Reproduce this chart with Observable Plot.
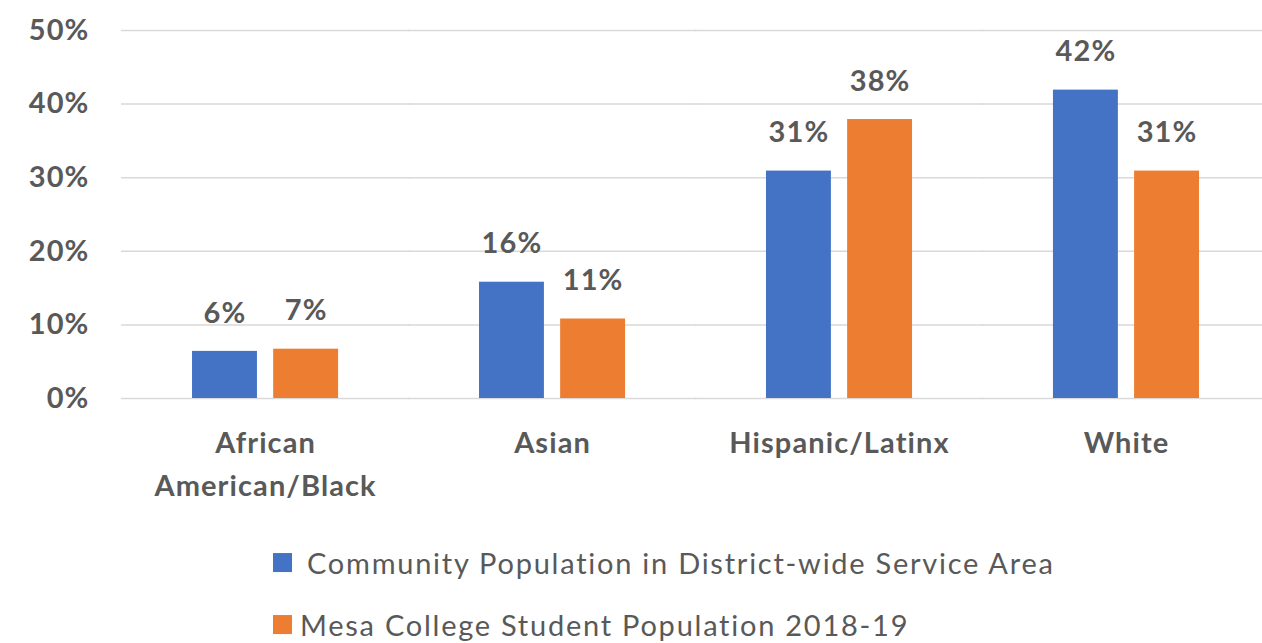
<!DOCTYPE html>
<html><head><meta charset="utf-8">
<script src="https://cdn.jsdelivr.net/npm/d3@7"></script>
<script src="https://cdn.jsdelivr.net/npm/@observablehq/plot@0.6"></script>
<style>
body{margin:0;background:#fff;font-family:Lato,sans-serif;}
#wrap{position:relative;width:1262px;height:643px;overflow:hidden;background:#fff;}
#chart{position:absolute;left:0;top:0;}
.leg{position:absolute;left:273px;display:flex;align-items:center;color:#595959;font-size:29px;letter-spacing:1.75px;white-space:nowrap;transform:translateY(-50%);line-height:1.1;}
.sw{display:inline-block;width:19px;height:19px;flex:none;}
#chart svg text{letter-spacing:1.1px;}
</style></head><body><div id="wrap"><div id="chart"></div></div>
<script>
const categories = ["African American/Black", "Asian", "Hispanic/Latinx", "White"];
const categoryLabels = ["African\nAmerican/Black", "Asian", "Hispanic/Latinx", "White"];
const series = ["Community Population in District-wide Service Area", "Mesa College Student Population 2018-19"];
const community = [0.064, 0.158, 0.309, 0.419];
const mesa = [0.067, 0.108, 0.379, 0.309];
const colors = ["#4472C4", "#ED7D31"];
const yTicks = [0, 0.1, 0.2, 0.3, 0.4, 0.5];

const data = categories.flatMap((c, i) => [
  {category: c, series: series[0], value: community[i]},
  {category: c, series: series[1], value: mesa[i]}
]);
const pct = d3.format(".0%");

const W = 1262, ML = 121, MR = 0;
const pIn = 0.491, pOut = 0.2335, align = 0.53;
const step = (W - ML - MR) / (categories.length - pIn + 2 * pOut);
const firstCellLeft = ML + align * 2 * pOut * step;
const gapHalf = step * pIn / 2 + 1;

const chart = Plot.plot({
  width: W, height: 520,
  marginLeft: ML, marginRight: MR, marginTop: 30, marginBottom: 122,
  style: {fontFamily: "Lato, sans-serif", fontSize: "29px", fontWeight: "bold", color: "#595959", background: "white"},
  fx: {domain: categories, paddingInner: pIn, paddingOuter: pOut, align, round: false, label: null, axis: null},
  x: {domain: series, paddingInner: 0.2, paddingOuter: 0, round: false, axis: null},
  y: {domain: [0, 0.5], axis: null},
  color: {domain: series, range: colors},
  marks: [
    Plot.ruleY(yTicks, {y: d => d, stroke: "#d9d9d9", strokeWidth: 1.5, insetLeft: -(firstCellLeft - ML), insetRight: -gapHalf}),
    Plot.axisY({anchor: "left", ticks: yTicks, tickFormat: pct, tickSize: 0, tickPadding: firstCellLeft - 89, fontSize: 29, fontWeight: "bold", fill: "#595959", label: null}),
    Plot.barY(data, {fx: "category", x: "series", y: "value", fill: "series"}),
    Plot.text(data, {fx: "category", x: "series", y: "value", text: d => pct(d.value), dy: -38, fontSize: 29, fontWeight: "bold", fill: "#595959"}),
    Plot.axisFx({anchor: "bottom", tickSize: 0, tickPadding: 24, fontSize: 29, fontWeight: "bold", lineHeight: 1.48, label: null, tickFormat: d => categoryLabels[categories.indexOf(d)], fill: "#595959"})
  ]
});
document.getElementById("chart").appendChild(chart);

const wrap = document.getElementById("wrap");
const legendTops = [563, 625];
const legendGaps = [15, 8];
series.forEach((s, i) => {
  const div = document.createElement("div");
  div.className = "leg";
  div.style.top = legendTops[i] + "px";
  const sw = document.createElement("span");
  sw.className = "sw";
  sw.style.background = colors[i];
  sw.style.marginRight = legendGaps[i] + "px";
  const t = document.createElement("span");
  t.textContent = s;
  div.appendChild(sw);
  div.appendChild(t);
  wrap.appendChild(div);
});
</script>
</body></html>
